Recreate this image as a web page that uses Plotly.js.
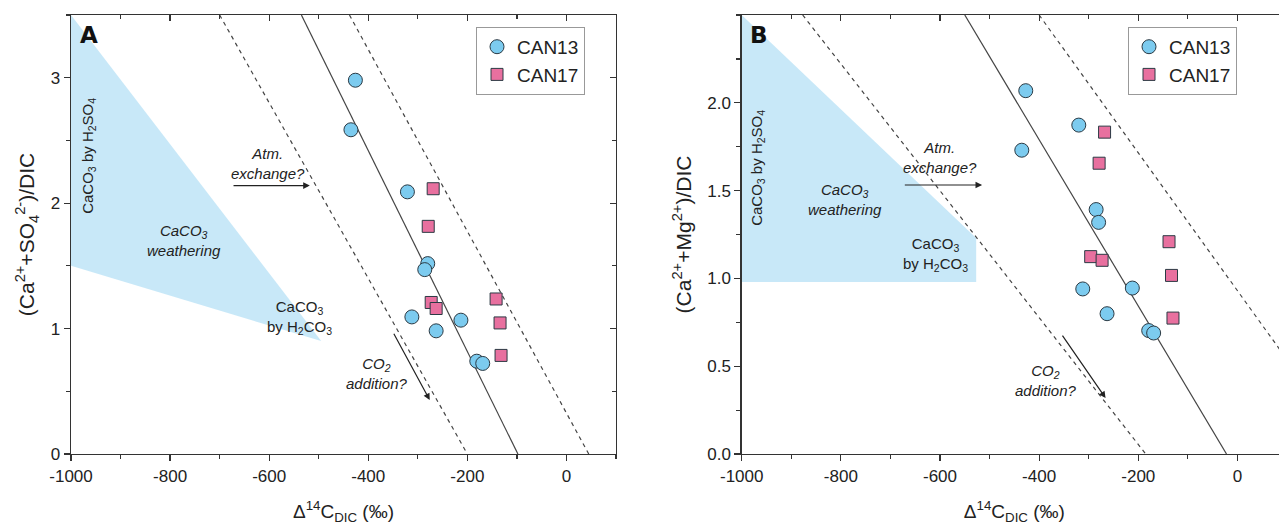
<!DOCTYPE html>
<html>
<head>
<meta charset="utf-8">
<script src="https://cdn.plot.ly/plotly-3.0.1.min.js"></script>
<style>
html,body{margin:0;padding:0;overflow:hidden;background:#fff;}
#chart{width:1290px;height:526px;}
</style>
</head>
<body>
<div id="chart"></div>
<script>
// ---- data ----
const seriesNames = ["CAN13", "CAN17"];

// Panel A: (Ca2+ + SO4 2-)/DIC vs Δ14C
const xA_can13 = [-426, -435, -321, -280, -286, -312, -263, -213, -181, -169];
const yA_can13 = [2.98, 2.585, 2.09, 1.518, 1.47, 1.093, 0.982, 1.067, 0.74, 0.722];
const xA_can17 = [-269, -279, -273, -263, -142, -134, -132];
const yA_can17 = [2.115, 1.815, 1.208, 1.16, 1.236, 1.045, 0.786];

// Panel B: (Ca2+ + Mg2+)/DIC vs Δ14C
const xB_can13 = [-427, -320, -435, -285, -280, -312, -212, -263, -179, -169];
const yB_can13 = [2.069, 1.873, 1.730, 1.392, 1.319, 0.940, 0.945, 0.799, 0.703, 0.689];
const xB_can17 = [-268, -279, -296, -273, -138, -133, -130];
const yB_can17 = [1.833, 1.656, 1.124, 1.103, 1.209, 1.017, 0.774];

// reference lines (end points)
const lineA_solid_x = [-535, -98],  lineA_solid_y = [3.5, 0];
const lineA_dashL_x = [-700, -200], lineA_dashL_y = [3.5, 0];
const lineA_dashR_x = [-438, 45],   lineA_dashR_y = [3.5, 0];
const lineB_solid_x = [-550, -22],  lineB_solid_y = [2.5, 0];
const lineB_dashL_x = [-877, -185], lineB_dashL_y = [2.5, 0];
const lineB_dashR_x = [-400, 237],  lineB_dashR_y = [2.5, 0];

// shaded "CaCO3 weathering" regions
const shadeA_x = [-1000, -495, -1000], shadeA_y = [3.5, 0.9, 1.5];
const shadeB_x = [-1000, -527, -527, -1000], shadeB_y = [2.5, 1.23, 0.98, 0.98];

// axis ranges and tick labels
const xRange = [-1000, 100];
const yRangeA = [0, 3.5];
const yRangeB = [0, 2.5];
const xTickVals = [-1000, -800, -600, -400, -200, 0];
const xTickText = ["-1000", "-800", "-600", "-400", "-200", "0"];
const yA_TickVals = [0, 1, 2, 3];
const yA_TickText = ["0", "1", "2", "3"];
const yB_TickVals = [0, 0.5, 1, 1.5, 2];
const yB_TickText = ["0.0", "0.5", "1.0", "1.5", "2.0"];

// ---- styling ----
const FONT = "Liberation Sans, Arial, Helvetica, sans-serif";
const AX = "#333";
const C13 = "#7ccbef", C17 = "#e8709f";
const SHADE = "rgba(190,228,247,0.85)";

function shadeTrace(x, y, xa, ya) {
  return {x: x, y: y, xaxis: xa, yaxis: ya, type: "scatter", mode: "lines",
    fill: "toself", fillcolor: SHADE, line: {width: 0, color: SHADE},
    showlegend: false, hoverinfo: "skip"};
}
function lineTrace(x, y, xa, ya, dash) {
  return {x: x, y: y, xaxis: xa, yaxis: ya, type: "scatter", mode: "lines",
    line: {color: "#444", width: 1.2, dash: dash}, showlegend: false, hoverinfo: "skip"};
}
function ptsTrace(x, y, xa, ya, name, sym, col, size, legend) {
  return {x: x, y: y, xaxis: xa, yaxis: ya, type: "scatter", mode: "markers", name: name,
    legend: legend,
    marker: {symbol: sym, size: size, color: col, line: {color: "#2b3a44", width: 1}}};
}
function blank(xa, ya) {
  return {x: [null], y: [null], xaxis: xa, yaxis: ya, type: "scatter", mode: "markers",
    showlegend: false, hoverinfo: "skip"};
}

const data = [
  shadeTrace(shadeA_x, shadeA_y, "x", "y"),
  lineTrace(lineA_dashL_x, lineA_dashL_y, "x", "y", "4px,4px"),
  lineTrace(lineA_solid_x, lineA_solid_y, "x", "y", "solid"),
  lineTrace(lineA_dashR_x, lineA_dashR_y, "x", "y", "4px,4px"),
  ptsTrace(xA_can13, yA_can13, "x", "y", seriesNames[0], "circle", C13, 14, "legend"),
  ptsTrace(xA_can17, yA_can17, "x", "y", seriesNames[1], "square", C17, 12, "legend"),

  shadeTrace(shadeB_x, shadeB_y, "x2", "y2"),
  lineTrace(lineB_dashL_x, lineB_dashL_y, "x2", "y2", "4px,4px"),
  lineTrace(lineB_solid_x, lineB_solid_y, "x2", "y2", "solid"),
  lineTrace(lineB_dashR_x, lineB_dashR_y, "x2", "y2", "4px,4px"),
  ptsTrace(xB_can13, yB_can13, "x2", "y2", seriesNames[0], "circle", C13, 14, "legend2"),
  ptsTrace(xB_can17, yB_can17, "x2", "y2", seriesNames[1], "square", C17, 12, "legend2"),

  blank("x3", "y"), blank("x", "y3"), blank("x4", "y2"), blank("x2", "y4")
];

const W = 1290, H = 526, ML = 71, MR = 3, MT = 15, MB = 72;
const PW = W - ML - MR;
const dA = [0, 545 / PW];
const dB = [(741.7 - ML) / PW, 1];

const tickFont = {family: FONT, size: 17, color: "#222"};
function xMain(domain, anchor) {
  return {domain: domain, anchor: anchor, range: xRange,
    tickmode: "array", tickvals: xTickVals, ticktext: xTickText,
    ticks: "outside", ticklen: 6, tickwidth: 1.2, tickcolor: AX,
    minor: {tickmode: "linear", dtick: 100, tick0: -1000, ticks: "outside", ticklen: 4, tickwidth: 1.2, tickcolor: AX},
    showline: true, linecolor: AX, linewidth: 1.3, showgrid: false, zeroline: false,
    tickfont: tickFont, fixedrange: true,
    title: {text: "Δ<sup>14</sup>C<sub>DIC</sub> (‰)", font: {family: FONT, size: 19, color: "#222"}, standoff: 20}};
}
function xTop(over, anchor) {
  return {overlaying: over, anchor: anchor, side: "top", range: xRange, tick0: -1000, dtick: 200,
    ticks: "inside", ticklen: 6, tickwidth: 1.2, tickcolor: AX,
    minor: {tickmode: "linear", dtick: 100, tick0: -1000, ticks: "inside", ticklen: 4, tickwidth: 1.2, tickcolor: AX},
    showline: true, linecolor: AX, linewidth: 1.3, showgrid: false, zeroline: false,
    showticklabels: false, fixedrange: true};
}
function yMain(anchor, range, tv, tt, minorDt, title) {
  return {domain: [0, 1], anchor: anchor, range: range,
    tickmode: "array", tickvals: tv, ticktext: tt,
    ticks: "outside", ticklen: 6, tickwidth: 1.2, tickcolor: AX,
    minor: {tickmode: "linear", dtick: minorDt, tick0: 0, ticks: "outside", ticklen: 4, tickwidth: 1.2, tickcolor: AX},
    showline: true, linecolor: AX, linewidth: 1.3, showgrid: false, zeroline: false,
    tickfont: tickFont, fixedrange: true,
    title: {text: title, font: {family: FONT, size: 21, color: "#222"}, standoff: 10}};
}
function yRight(over, anchor, range, dtick, minorDt) {
  return {overlaying: over, anchor: anchor, side: "right", range: range, tick0: 0, dtick: dtick,
    ticks: "inside", ticklen: 6, tickwidth: 1.2, tickcolor: AX,
    minor: {tickmode: "linear", dtick: minorDt, tick0: 0, ticks: "inside", ticklen: 4, tickwidth: 1.2, tickcolor: AX},
    showline: true, linecolor: AX, linewidth: 1.3, showgrid: false, zeroline: false,
    showticklabels: false, fixedrange: true};
}

const txt = (t, x, y, xr, yr, opts) => Object.assign({text: t, x: x, y: y, xref: xr, yref: yr,
  showarrow: false, font: {family: FONT, size: 15, color: "#222"}}, opts || {});
const arrow = (x, y, ax, ay, xr, yr) => ({text: "", x: x, y: y, ax: ax, ay: ay, xref: xr, yref: yr,
  axref: xr, ayref: yr, showarrow: true, arrowhead: 2, arrowsize: 1.1, arrowwidth: 1.2, arrowcolor: "#222"});

const annotations = [
  // panel A
  txt("<b>A</b>", -964, 3.34, "x", "y", {font: {family: "DejaVu Sans, Arial Black, sans-serif", size: 23, color: "#111"}}),
  txt("CaCO<sub>3</sub> by H<sub>2</sub>SO<sub>4</sub>", -965, 2.38, "x", "y", {textangle: -90}),
  txt("<i>CaCO<sub>3</sub><br>weathering</i>", -771, 1.70, "x", "y"),
  txt("<i>Atm.<br>exchange?</i>", -602, 2.32, "x", "y"),
  arrow(-518, 2.14, -675, 2.14, "x", "y"),
  txt("CaCO<sub>3</sub><br>by H<sub>2</sub>CO<sub>3</sub>", -539, 1.09, "x", "y"),
  txt("<i>CO<sub>2</sub><br>addition?</i>", -382, 0.64, "x", "y"),
  arrow(-276, 0.43, -350, 0.97, "x", "y"),
  // panel B
  txt("<b>B</b>", -966, 2.385, "x2", "y2", {font: {family: "DejaVu Sans, Arial Black, sans-serif", size: 23, color: "#111"}}),
  txt("CaCO<sub>3</sub> by H<sub>2</sub>SO<sub>4</sub>", -967, 1.63, "x2", "y2", {textangle: -90}),
  txt("<i>CaCO<sub>3</sub><br>weathering</i>", -791, 1.45, "x2", "y2"),
  txt("<i>Atm.<br>exchange?</i>", -601, 1.69, "x2", "y2"),
  arrow(-515, 1.532, -674, 1.532, "x2", "y2"),
  txt("CaCO<sub>3</sub><br>by H<sub>2</sub>CO<sub>3</sub>", -609, 1.135, "x2", "y2"),
  txt("<i>CO<sub>2</sub><br>addition?</i>", -386, 0.42, "x2", "y2"),
  arrow(-266, 0.319, -355, 0.683, "x2", "y2")
];

const legendStyle = (x) => ({x: x, y: 0.973, xanchor: "left", yanchor: "top",
  bgcolor: "#fff", bordercolor: "#999", borderwidth: 1,
  font: {family: FONT, size: 19, color: "#222"}, itemwidth: 30, tracegroupgap: 0});

const layout = {
  width: W, height: H, margin: {l: ML, r: MR, t: MT, b: MB},
  paper_bgcolor: "#fff", plot_bgcolor: "#fff", font: {family: FONT, color: "#222"},
  showlegend: true,
  legend: legendStyle((476 - ML) / PW),
  legend2: legendStyle((1128 - ML) / PW),
  xaxis: xMain(dA, "y"),
  yaxis: yMain("x", yRangeA, yA_TickVals, yA_TickText, 0.5, "(Ca<sup>2+</sup>+SO<sub>4</sub><sup>2-</sup>)/DIC"),
  xaxis3: xTop("x", "y"),
  yaxis3: yRight("y", "x", yRangeA, 1, 0.5),
  xaxis2: xMain(dB, "y2"),
  yaxis2: yMain("x2", yRangeB, yB_TickVals, yB_TickText, 0.25, "(Ca<sup>2+</sup>+Mg<sup>2+</sup>)/DIC"),
  xaxis4: xTop("x2", "y2"),
  yaxis4: yRight("y2", "x2", yRangeB, 0.5, 0.25),
  annotations: annotations
};

Plotly.newPlot("chart", data, layout, {displayModeBar: false, responsive: false, staticPlot: true});
</script>
</body>
</html>
